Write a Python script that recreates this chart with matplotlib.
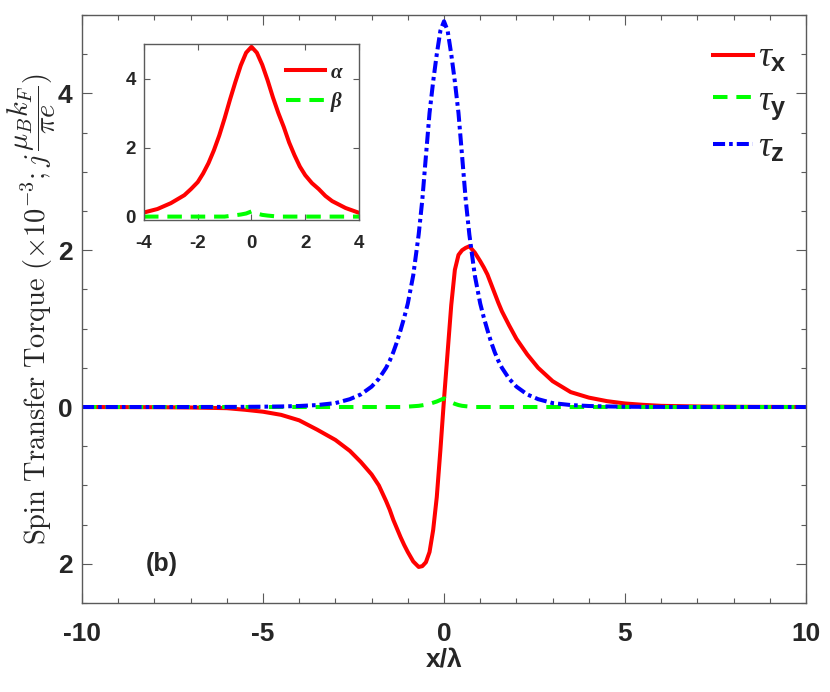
import matplotlib
matplotlib.use('Agg')
import matplotlib.pyplot as plt
from matplotlib.font_manager import FontProperties

# ---- data ----
x_main = [-10, -8, -7, -6, -5.5, -5, -4.5, -4, -3.5, -3, -2.6, -2.3, -2, -1.8,
          -1.6, -1.5, -1.4, -1.3, -1.2, -1.1, -1.0, -0.85, -0.7, -0.6, -0.5,
          -0.4, -0.3, -0.2, -0.1, 0, 0.1, 0.2, 0.3, 0.4, 0.5, 0.6, 0.7, 0.85,
          1.0, 1.1, 1.2, 1.3, 1.4, 1.5, 1.6, 1.8, 2.0, 2.3, 2.6, 3.0, 3.5, 4,
          4.5, 5, 5.5, 6, 7, 8, 10]
tau_x = [0, -0.002, -0.006, -0.015, -0.035, -0.06, -0.1, -0.17, -0.29, -0.42,
         -0.56, -0.7, -0.86, -1.0, -1.2, -1.31, -1.44, -1.55, -1.66, -1.76,
         -1.85, -1.97, -2.04, -2.03, -1.98, -1.85, -1.57, -1.15, -0.55, 0.1,
         0.7, 1.3, 1.75, 1.94, 2.0, 2.03, 2.05, 1.97, 1.86, 1.78, 1.69, 1.57,
         1.45, 1.33, 1.22, 1.04, 0.87, 0.67, 0.5, 0.33, 0.19, 0.12, 0.075,
         0.045, 0.028, 0.015, 0.007, 0.003, 0]
tau_y = [0, 0, 0, 0, 0, 0, 0, 0, 0, 0, 0, 0, 0, 0, 0, 0, 0, 0, 0, 0, 0.005,
         0.01, 0.015, 0.022, 0.03, 0.04, 0.055, 0.07, 0.09, 0.11, 0.09, 0.06,
         0.04, 0.025, 0.015, 0.01, 0.005, 0, 0, 0, 0, 0, 0, 0, 0, 0, 0, 0, 0,
         0, 0, 0, 0, 0, 0, 0, 0, 0, 0]
tau_z = [0, 0, 0, 0.001, 0.002, 0.004, 0.007, 0.013, 0.025, 0.05, 0.1, 0.16,
         0.26, 0.36, 0.5, 0.59, 0.7, 0.83, 0.98, 1.14, 1.32, 1.68, 2.2, 2.64,
         3.2, 3.75, 4.15, 4.5, 4.8, 4.92, 4.8, 4.5, 4.15, 3.75, 3.2, 2.64, 2.2,
         1.68, 1.32, 1.14, 0.98, 0.83, 0.7, 0.59, 0.5, 0.36, 0.26, 0.16, 0.1,
         0.05, 0.025, 0.013, 0.007, 0.004, 0.002, 0.001, 0, 0, 0]

x_ins = [-4, -3.5, -3, -2.5, -2.25, -2, -1.8, -1.6, -1.4, -1.2, -1.0, -0.8,
         -0.6, -0.4, -0.2, 0, 0.2, 0.4, 0.6, 0.8, 1.0, 1.2, 1.4, 1.6, 1.8, 2,
         2.25, 2.5, 2.75, 3, 3.5, 4]
alpha = [0.12, 0.22, 0.39, 0.62, 0.8, 1.0, 1.25, 1.55, 1.92, 2.35, 2.85, 3.39,
         3.9, 4.38, 4.75, 4.92, 4.75, 4.4, 3.95, 3.45, 3.0, 2.6, 2.15, 1.78,
         1.45, 1.2, 0.97, 0.8, 0.6, 0.45, 0.25, 0.11]
beta = [0, 0, 0, 0, 0, 0, 0, 0, 0, 0, 0, 0.02, 0.04, 0.06, 0.09, 0.15, 0.09,
        0.05, 0.03, 0.015, 0, 0, 0, 0, 0, 0, 0, 0, 0, 0, 0, 0]

plt.rcParams['mathtext.fontset'] = 'custom'
plt.rcParams['mathtext.rm'] = 'Liberation Sans'
plt.rcParams['mathtext.it'] = 'Liberation Serif:italic'
plt.rcParams['mathtext.bf'] = 'Liberation Sans:bold'
plt.rcParams['font.family'] = 'Liberation Sans'

dark = '#262626'
spine_c = '#5a5a5a'

fig = plt.figure(figsize=(8.3, 6.92), dpi=100)
ax = fig.add_axes([0.0988, 0.1286, 0.8723, 0.8497])

lw = 2.9
ax.plot(x_main, tau_x, color='#ff0000', lw=lw, label=r'$\tau_{\mathbf{x}}$')
ax.plot(x_main, tau_y, color='#00ff00', lw=lw, dashes=(3.6, 2.2),
        label=r'$\tau_{\mathbf{y}}$')
ax.plot(x_main, tau_z, color='#0000ff', lw=lw, dashes=(3.0, 1.0, 0.9, 1.0),
        label=r'$\tau_{\mathbf{z}}$')

ax.set_xlim(-10, 10)
ax.set_ylim(-2.5, 5)
ax.set_xticks([-10, -5, 0, 5, 10])
ax.set_xticklabels(['-10', '-5', '0', '5', '10'])
ax.set_xticks(range(-10, 11), minor=True)
ax.set_yticks([-2, 0, 2, 4])
ax.set_yticklabels(['2', '0', '2', '4'])
ax.set_yticks([v * 0.5 for v in range(-5, 11)], minor=True)
ax.tick_params(which='both', direction='in', top=True, right=True,
               colors=spine_c, labelcolor=dark, width=0.8)
ax.tick_params(which='major', length=7, labelsize=19)
ax.tick_params(which='minor', length=3.5)
ax.tick_params(axis='x', which='major', pad=14)
ax.tick_params(axis='y', which='major', pad=7)
for lab in ax.get_xticklabels() + ax.get_yticklabels():
    lab.set_fontweight('bold')
for s in ax.spines.values():
    s.set_color(spine_c)
    s.set_linewidth(1.0)

ax.set_xlabel('x/λ', fontsize=19, fontweight='bold', color=dark, labelpad=1)
ax.set_ylabel(r'$\mathrm{Spin\ Transfer\ Torque}\ (\times10^{-3}; j\,\dfrac{\mu_B k_F}{\pi e})$',
              fontsize=20.5, color=dark, math_fontfamily='cm', labelpad=0)

ax.text(-7.8, -2.0, '(b)', fontsize=18, fontweight='bold', color=dark,
        ha='center', va='center')

leg = ax.legend(loc='upper left', bbox_to_anchor=(0.8715, 0.957), frameon=False,
                fontsize=26, handlelength=1.1, handletextpad=0.15,
                labelspacing=0.21, borderpad=0, borderaxespad=0)
for t in leg.get_texts():
    t.set_color(dark)

# ---- inset ----
axi = fig.add_axes([0.1735, 0.682, 0.259, 0.2543])
axi.plot(x_ins, alpha, color='#ff0000', lw=lw, label='α')
axi.plot(x_ins, beta, color='#00ff00', lw=lw, dashes=(3.6, 2.2), label='β')
axi.set_xlim(-4, 4)
axi.set_ylim(-0.1, 5)
axi.set_xticks([-4, -2, 0, 2, 4])
axi.set_xticklabels(['-4', '-2', '0', '2', '4'])
axi.set_yticks([0, 2, 4])
axi.tick_params(direction='in', top=True, right=True, length=4,
                colors=spine_c, labelcolor=dark, labelsize=13.5, width=0.8)
axi.tick_params(axis='x', pad=11)
axi.tick_params(axis='y', pad=6)
for lab in axi.get_xticklabels() + axi.get_yticklabels():
    lab.set_fontweight('bold')
for s in axi.spines.values():
    s.set_color(spine_c)
    s.set_linewidth(1.0)
ileg = axi.legend(loc='upper left', bbox_to_anchor=(0.66, 0.895), frameon=False,
                  prop=FontProperties(family='Liberation Serif', weight='bold',
                                      style='italic', size=15),
                  handlelength=1.9, handletextpad=0.25, labelspacing=0.45,
                  borderpad=0, borderaxespad=0)
for t in ileg.get_texts():
    t.set_color(dark)

fig.savefig('out.png', dpi=100)
